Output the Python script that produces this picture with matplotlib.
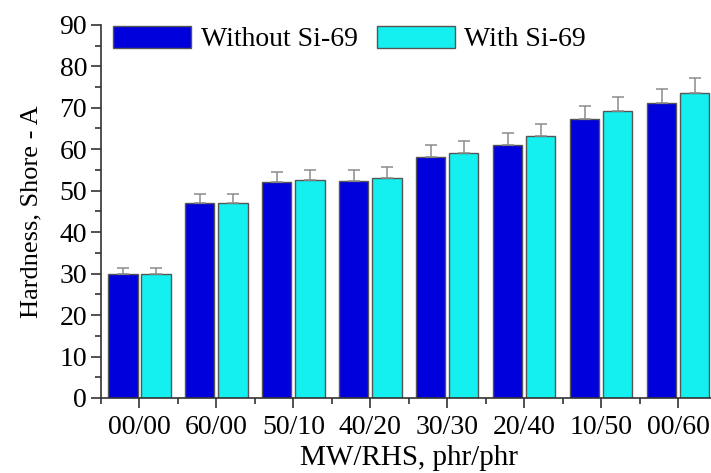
import matplotlib
matplotlib.use("Agg")
import matplotlib.pyplot as plt
import numpy as np
from matplotlib.ticker import MultipleLocator

# data
categories = ["00/00", "60/00", "50/10", "40/20", "30/30", "20/40", "10/50", "00/60"]
without_si = [30.0, 47.0, 52.0, 52.4, 58.1, 61.0, 67.2, 71.1]
without_err = [1.4, 2.3, 2.6, 2.6, 2.9, 3.0, 3.3, 3.5]
with_si = [30.0, 47.0, 52.5, 53.0, 59.0, 63.1, 69.1, 73.5]
with_err = [1.4, 2.3, 2.6, 2.6, 2.9, 3.0, 3.4, 3.7]

plt.rcParams['font.family'] = ['Liberation Serif', 'DejaVu Serif']

fig = plt.figure(figsize=(7.11, 4.73), dpi=100)
ax = fig.add_axes([0.142, 0.1586, 0.866, 0.789])

x = np.arange(len(categories))
w = 0.38
off = 0.215
ekw = dict(ecolor='#8c8c8c', elinewidth=1.1, capsize=4, capthick=1.1)

ax.bar(x - off, without_si, w, color='#0000dd', edgecolor='#555555', linewidth=1,
       yerr=[np.zeros(len(x)), without_err], error_kw=ekw, label='Without Si-69')
ax.bar(x + off, with_si, w, color='#14f0f0', edgecolor='#555555', linewidth=1,
       yerr=[np.zeros(len(x)), with_err], error_kw=ekw, label='With Si-69')

ax.set_xlim(-0.5, 7.5)
ax.set_ylim(0, 90)
ax.set_xticks(x)
ax.set_xticklabels(categories)
ax.xaxis.set_minor_locator(MultipleLocator(1, offset=0.5))
ax.yaxis.set_major_locator(MultipleLocator(10))
ax.yaxis.set_minor_locator(MultipleLocator(5))

for s in ['top', 'right']:
    ax.spines[s].set_visible(False)
for s in ['left', 'bottom']:
    ax.spines[s].set_color('#333333')
    ax.spines[s].set_linewidth(1.2)

ax.tick_params(axis='both', which='major', direction='out', length=7, width=1.2,
               color='#333333', labelcolor='black')
ax.tick_params(axis='both', which='minor', direction='out', length=4, width=1.2,
               color='#333333')
ax.tick_params(axis='y', labelsize=20, pad=3)
ax.tick_params(axis='x', labelsize=20, pad=5)

ax.set_ylabel('Hardness, Shore - A', fontsize=19, labelpad=12)
ax.set_xlabel('MW/RHS, phr/phr', fontsize=21, labelpad=4)

ax.legend(loc='upper left', ncol=2, frameon=False, fontsize=20,
          handlelength=2.8, handleheight=0.85, columnspacing=0.7, handletextpad=0.35,
          bbox_to_anchor=(-0.012, 1.05), borderaxespad=0.3)

fig.savefig('out.png', dpi=100)
